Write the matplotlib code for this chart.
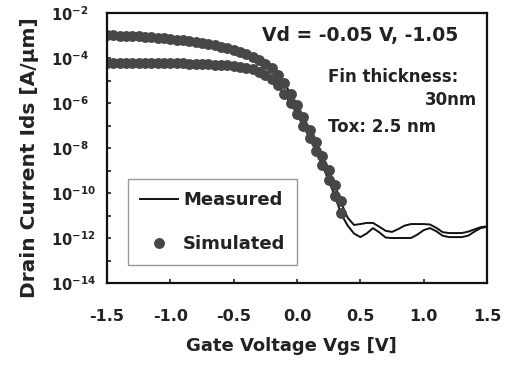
import matplotlib
matplotlib.use('Agg')
import matplotlib.pyplot as plt
import numpy as np

# simulated points (log10 of Ids), Vd = -1.05 V (upper) and Vd = -0.05 V (lower)
vg_sim = [-1.50, -1.45, -1.40, -1.35, -1.30, -1.25, -1.20, -1.15, -1.10, -1.05,
          -1.00, -0.95, -0.90, -0.85, -0.80, -0.75, -0.70, -0.65, -0.60, -0.55,
          -0.50, -0.45, -0.40, -0.35, -0.30, -0.25, -0.20, -0.15, -0.10, -0.05,
          0.00, 0.05, 0.10, 0.15, 0.20, 0.25, 0.30, 0.35]
sim_hi = [-2.98, -2.99, -3.00, -3.01, -3.03, -3.04, -3.06, -3.08, -3.10, -3.12,
          -3.15, -3.18, -3.21, -3.25, -3.29, -3.33, -3.38, -3.43, -3.49, -3.56,
          -3.64, -3.73, -3.84, -3.97, -4.11, -4.27, -4.46, -4.75, -5.12, -5.58,
          -6.08, -6.62, -7.18, -7.75, -8.35, -8.98, -9.65, -10.35]
sim_lo = [-4.20, -4.20, -4.20, -4.21, -4.21, -4.21, -4.22, -4.22, -4.22, -4.23,
          -4.23, -4.24, -4.24, -4.25, -4.26, -4.27, -4.28, -4.29, -4.31, -4.33,
          -4.36, -4.39, -4.44, -4.51, -4.60, -4.74, -4.94, -5.22, -5.58, -6.00,
          -6.48, -7.00, -7.55, -8.12, -8.75, -9.42, -10.15, -10.90]

# measured curves (log10 of Ids)
vg_meas = [-1.5, -1.3, -1.1, -0.9, -0.7, -0.5, -0.4, -0.3, -0.2, -0.1,
           0.0, 0.1, 0.2, 0.3, 0.35, 0.40, 0.45, 0.50, 0.55, 0.60,
           0.65, 0.70, 0.75, 0.80, 0.85, 0.90, 0.95, 1.00, 1.05, 1.10,
           1.15, 1.20, 1.25, 1.30, 1.35, 1.40, 1.45, 1.50]
meas_hi = [-2.98, -3.03, -3.10, -3.21, -3.38, -3.64, -3.84, -4.11, -4.46, -5.12,
           -6.08, -7.18, -8.35, -9.65, -10.45, -11.10, -11.42, -11.38, -11.33, -11.33,
           -11.50, -11.68, -11.73, -11.60, -11.45, -11.38, -11.38, -11.38, -11.40, -11.55,
           -11.74, -11.78, -11.78, -11.78, -11.72, -11.62, -11.52, -11.48]
meas_lo = [-4.20, -4.21, -4.22, -4.24, -4.28, -4.36, -4.44, -4.60, -4.94, -5.58,
           -6.48, -7.55, -8.75, -10.15, -10.95, -11.45, -11.80, -11.96, -11.80, -11.56,
           -11.75, -11.98, -12.00, -12.00, -12.00, -12.00, -11.85, -11.65, -11.56, -11.70,
           -11.90, -11.96, -11.96, -11.96, -11.90, -11.72, -11.56, -11.50]

x_ticks = [-1.5, -1.0, -0.5, 0.0, 0.5, 1.0, 1.5]
y_exps = [-14, -12, -10, -8, -6, -4, -2]

plt.rcParams['font.family'] = 'DejaVu Sans'
plt.rcParams['font.weight'] = 'bold'
plt.rcParams['mathtext.default'] = 'bf'

W, H = 508, 365
fig = plt.figure(figsize=(W / 100, H / 100), dpi=100)
ax = fig.add_axes([107 / W, 1 - 283 / H, 380 / W, 270 / H])

mcol = '#474747'
ax.plot(vg_meas, np.power(10.0, meas_hi), color='#111111', lw=1.4, label='Measured')
ax.plot(vg_meas, np.power(10.0, meas_lo), color='#111111', lw=1.4)
ax.plot(vg_sim, np.power(10.0, sim_hi), ls='none', marker='o', ms=6.8, color=mcol,
        mec=mcol, label='Simulated')
ax.plot(vg_sim, np.power(10.0, sim_lo), ls='none', marker='o', ms=6.8, color=mcol, mec=mcol)

ax.set_yscale('log')
ax.set_xlim(-1.5, 1.5)
ax.set_ylim(1e-14, 1e-2)

ax.set_xticks(x_ticks)
ax.set_xticklabels(['%.1f' % v for v in x_ticks])
ax.set_yticks([10.0 ** e for e in y_exps])
ax.set_yticklabels([r'$10^{%d}$' % e for e in y_exps])
ax.set_yticks([10.0 ** e for e in range(-13, -2, 2)], minor=True)
ax.yaxis.set_minor_formatter(matplotlib.ticker.NullFormatter())

ax.tick_params(axis='x', which='major', direction='in', length=3, width=1.2,
               labelsize=11.5, pad=19, colors='#222222')
ax.tick_params(axis='y', which='both', direction='in', length=3, width=1.2,
               labelsize=10.5, pad=40, colors='#222222')
for lab in ax.get_yticklabels():
    lab.set_horizontalalignment('left')

for sp in ax.spines.values():
    sp.set_linewidth(1.6)
    sp.set_color('#111111')

ax.set_xlabel('Gate Voltage Vgs [V]', fontsize=13, fontweight='bold', color='#222222')
ax.xaxis.set_label_coords(0.484, -0.2)
ax.set_ylabel('Drain Current Ids [A/\u03bcm]', fontsize=14.5, fontweight='bold', color='#222222')
ax.yaxis.set_label_coords(-0.18, 0.463)


def label(px, py, s, size, ha='left'):
    fig.text(px / W, 1 - py / H, s, fontsize=size, fontweight='bold',
             va='center', ha=ha, color='#222222')


label(262, 36, 'Vd = -0.05 V, -1.05', 13.5)
label(328, 77, 'Fin thickness:', 12)
label(477, 100, '30nm', 12, ha='right')
label(328, 127, 'Tox: 2.5 nm', 12)

leg = ax.legend(loc='lower left', bbox_to_anchor=(0.055, 0.067), fontsize=13,
                frameon=True, fancybox=False, edgecolor='#999999', framealpha=1,
                handlelength=2.1, handletextpad=0.3, labelspacing=1.45,
                borderpad=0.65, borderaxespad=0, numpoints=1)
leg.get_frame().set_linewidth(1.0)
for t in leg.get_texts():
    t.set_color('#222222')

fig.savefig('out.png', dpi=100)
